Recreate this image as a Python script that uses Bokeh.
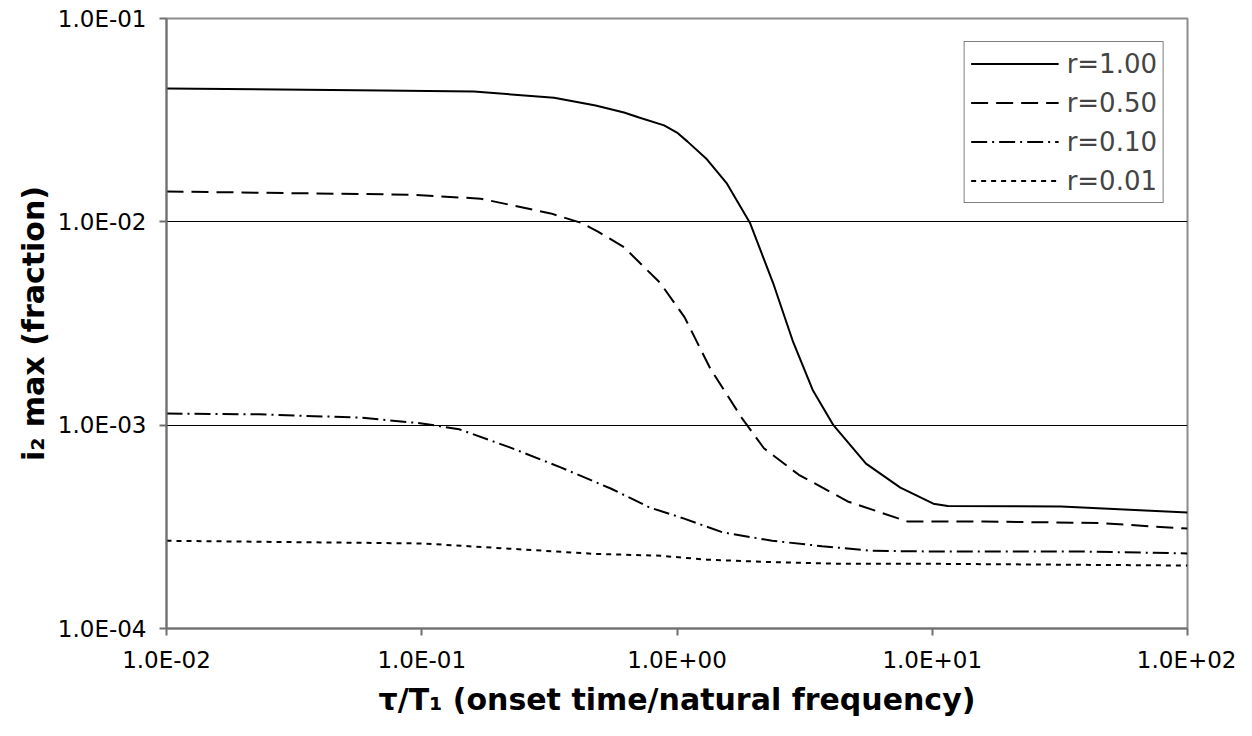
from bokeh.plotting import figure
from bokeh.models import FixedTicker, CustomJSTickFormatter
from bokeh.embed import file_html
from bokeh.resources import INLINE

# ---- data ----
x_ticks = [0.01, 0.1, 1.0, 10.0, 100.0]
x_tick_labels = ["1.0E-02", "1.0E-01", "1.0E+00", "1.0E+01", "1.0E+02"]
y_ticks = [1e-4, 1e-3, 1e-2, 1e-1]
y_tick_labels = ["1.0E-04", "1.0E-03", "1.0E-02", "1.0E-01"]

x_r100 = [0.01, 0.07, 0.16, 0.33, 0.48, 0.62, 0.71, 0.89, 1.0, 1.1, 1.3, 1.57,
          1.93, 2.38, 2.84, 3.41, 4.1, 5.5, 7.5, 10.1, 11.5, 32, 100]
y_r100 = [0.0453, 0.0443, 0.0437, 0.0408, 0.0373, 0.0345, 0.0326, 0.0298, 0.0275,
          0.0248, 0.0205, 0.0154, 0.0099, 0.0050, 0.0026, 0.00148, 0.00100,
          0.000647, 0.000493, 0.000411, 0.000400, 0.000398, 0.000372]

x_r050 = [0.01, 0.09, 0.17, 0.32, 0.42, 0.49, 0.62, 0.86, 1.07, 1.35, 1.79, 2.19,
          3.0, 4.7, 8.0, 15.9, 45, 100]
y_r050 = [0.0141, 0.0136, 0.0130, 0.0110, 0.0099, 0.00895, 0.0075, 0.0050, 0.0034,
          0.0019, 0.00109, 0.00077, 0.00057, 0.00042, 0.000336, 0.000336,
          0.00033, 0.00031]

x_r010 = [0.01, 0.023, 0.057, 0.1, 0.14, 0.22, 0.35, 0.55, 0.78, 1.06, 1.51, 2.36,
          3.7, 5.8, 10.7, 40, 100]
y_r010 = [0.00114, 0.00113, 0.00109, 0.00102, 0.000955, 0.00078, 0.00062,
          0.000488, 0.000394, 0.000348, 0.000297, 0.00027, 0.000254, 0.000241,
          0.000239, 0.000239, 0.000234]

x_r001 = [0.01, 0.1, 0.22, 0.47, 0.86, 1.31, 2.36, 4.4, 10.3, 100]
y_r001 = [0.00027, 0.000262, 0.000247, 0.000233, 0.000228, 0.000218, 0.000212,
          0.000208, 0.000208, 0.000204]

series_labels = ["r=1.00", "r=0.50", "r=0.10", "r=0.01"]

FONT = "DejaVu Sans"

p = figure(width=1236, height=720, x_axis_type="log", y_axis_type="log",
           x_range=(0.01, 100), y_range=(1e-4, 1e-1),
           output_backend="svg", toolbar_location=None,
           min_border_left=166, min_border_right=49,
           min_border_top=18, min_border_bottom=92)

p.background_fill_color = "white"
p.border_fill_color = "white"
p.outline_line_color = "#8c8c8c"
p.outline_line_width = 2

# lines
p.line(x_r100, y_r100, line_color="black", line_width=2, legend_label=series_labels[0])
p.line(x_r050, y_r050, line_color="black", line_width=2, line_dash="17 8",
       legend_label=series_labels[1])
p.line(x_r010, y_r010, line_color="black", line_width=2, line_dash="16 5 2 5",
       legend_label=series_labels[2])
p.line(x_r001, y_r001, line_color="black", line_width=2, line_dash="5 5",
       legend_label=series_labels[3])

fmt_code = """
const i = tv.findIndex(t => Math.abs(Math.log10(t) - Math.log10(tick)) < 1e-6);
return i >= 0 ? tl[i] : '';
"""

# axes
xa = p.xaxis[0]
xa.ticker = FixedTicker(ticks=x_ticks, minor_ticks=[])
xa.formatter = CustomJSTickFormatter(args=dict(tv=x_ticks, tl=x_tick_labels), code=fmt_code)
ya = p.yaxis[0]
ya.ticker = FixedTicker(ticks=y_ticks, minor_ticks=[])
ya.formatter = CustomJSTickFormatter(args=dict(tv=y_ticks, tl=y_tick_labels), code=fmt_code)

for ax in (xa, ya):
    ax.axis_line_color = "#707070"
    ax.axis_line_width = 2
    ax.major_tick_line_color = "#707070"
    ax.major_tick_line_width = 2
    ax.major_tick_out = 7
    ax.major_tick_in = 0
    ax.minor_tick_line_color = None
    ax.major_label_text_font = FONT
    ax.major_label_text_font_size = "23px"
    ax.major_label_text_color = "black"
    ax.axis_label_text_font = FONT
    ax.axis_label_text_font_size = "30px"
    ax.axis_label_text_font_style = "bold"
    ax.axis_label_text_color = "black"

xa.axis_label = "τ/T₁ (onset time/natural frequency)"
ya.axis_label = "i₂ max (fraction)"
xa.major_label_standoff = 11
xa.axis_label_standoff = 6
ya.major_label_standoff = 13
ya.axis_label_standoff = 4

# grid
p.xgrid.visible = False
p.ygrid.ticker = FixedTicker(ticks=[1e-3, 1e-2], minor_ticks=[])
p.ygrid.grid_line_color = "black"
p.ygrid.grid_line_width = 1

# legend
lg = p.legend[0]
lg.location = "top_right"
lg.margin = 23
lg.padding = 6
lg.spacing = 8
lg.label_height = 31
lg.glyph_height = 31
lg.glyph_width = 88
lg.label_standoff = 8
lg.label_text_font = FONT
lg.label_text_font_size = "26px"
lg.border_line_color = "black"
lg.border_line_width = 1
lg.background_fill_color = "white"
lg.background_fill_alpha = 1.0

open("out.html", "w").write(file_html(p, INLINE))
